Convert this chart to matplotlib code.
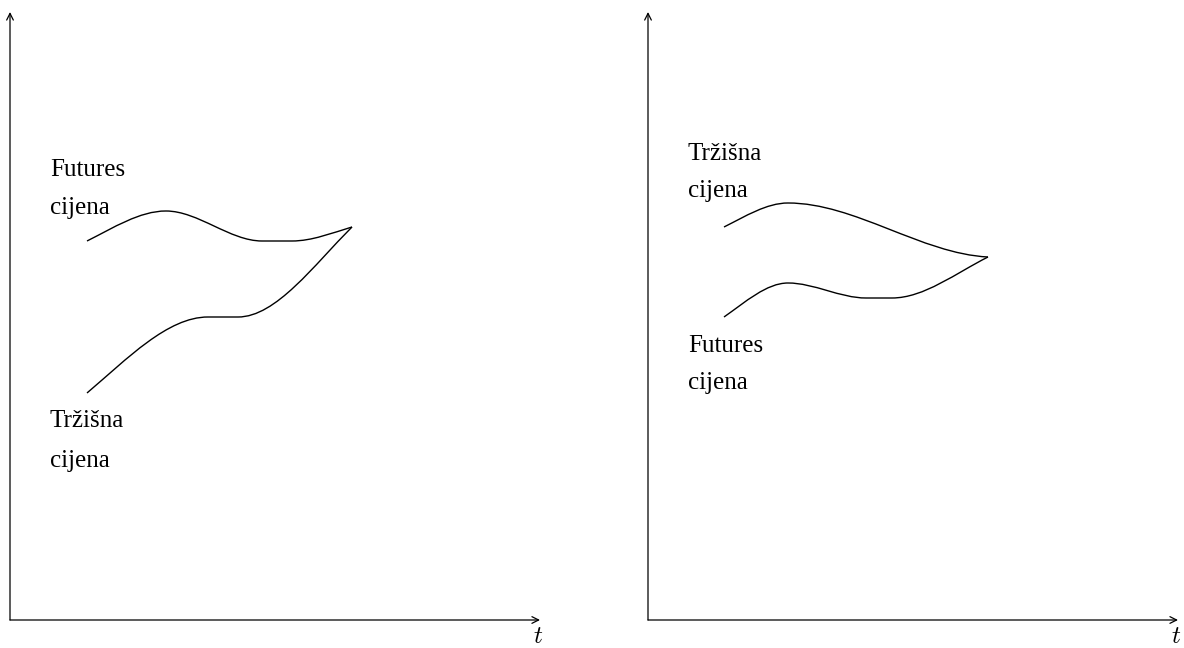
import numpy as np
import matplotlib.pyplot as plt
from matplotlib.path import Path
from matplotlib.patches import PathPatch

plt.rcParams['mathtext.fontset'] = 'cm'

# anchor points of the sketched curves (pixel-like units, y grows downward)
# each row: x, y, slope dy/dx at that point
left_futures = [(87, 241, -0.5), (166, 211, 0.0), (262, 241, 0.0), (292, 241, 0.0), (352, 227, -0.3)]
left_market = [(87, 393, -0.85), (208, 317, 0.0), (238, 317, 0.0), (352, 227, -1.0)]
right_market = [(724, 227, -0.5), (788, 203, 0.0), (988, 257, 0.05)]
right_futures = [(724, 317, -0.7), (788, 283, 0.0), (866, 298, 0.0), (892, 298, 0.0), (988, 257, -0.5)]

labels = [
    ('Futures', 50, 176), ('cijena', 50, 214),
    ('Tržišna', 50, 427), ('cijena', 50, 467),
    ('Tržišna', 688, 160), ('cijena', 688, 197),
    ('Futures', 688, 352), ('cijena', 688, 389),
]

axes_origin = [(10, 620), (648, 620)]
axes_ends = [(540, 12), (1178, 12)]


def smooth_path(pts):
    verts = [(pts[0][0], pts[0][1])]
    codes = [Path.MOVETO]
    for (x0, y0, s0), (x1, y1, s1) in zip(pts[:-1], pts[1:]):
        d = (x1 - x0) / 3.0
        verts += [(x0 + d, y0 + s0 * d), (x1 - d, y1 - s1 * d), (x1, y1)]
        codes += [Path.CURVE4] * 3
    return Path(verts, codes)


fig = plt.figure(figsize=(11.84, 6.48), dpi=100)
ax = fig.add_axes([0, 0, 1, 1])
ax.set_xlim(0, 1184)
ax.set_ylim(648, 0)
ax.axis('off')

for (x0, y0), (x1, y1) in zip(axes_origin, axes_ends):
    arrow = dict(arrowstyle='->', lw=0.9, color='black', mutation_scale=12, shrinkA=0, shrinkB=0)
    ax.annotate('', xy=(x0, y1), xytext=(x0, y0), arrowprops=arrow)
    ax.annotate('', xy=(x1, y0), xytext=(x0, y0), arrowprops=arrow)
    ax.text(x1 - 2, y0 + 16, '$t$', fontsize=18, ha='center', va='center')

for curve in [left_futures, left_market, right_market, right_futures]:
    ax.add_patch(PathPatch(smooth_path(curve), fill=False, lw=1.0, color='black'))

for txt, x, y in labels:
    ax.text(x, y, txt, fontsize=18, family='Liberation Serif', ha='left', va='baseline')

plt.savefig('out.png', dpi=100)
